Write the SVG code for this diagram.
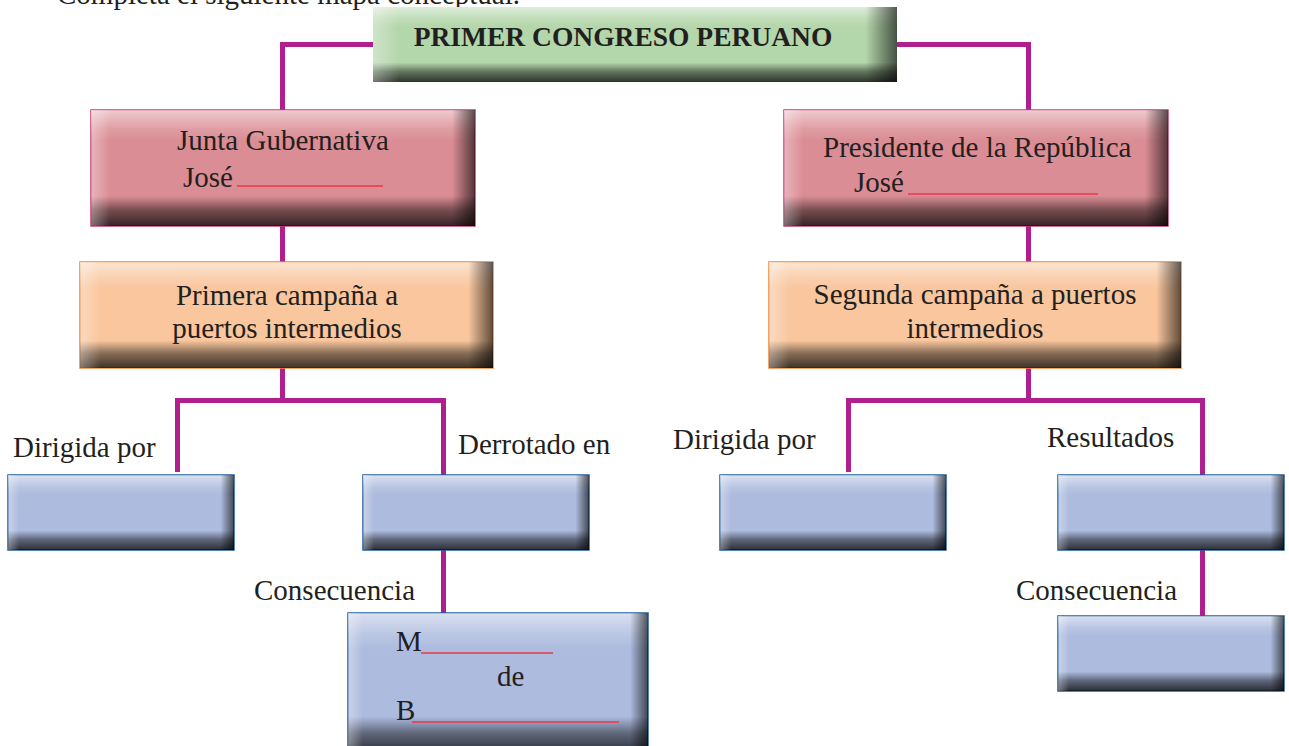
<svg xmlns="http://www.w3.org/2000/svg" width="1289" height="746" viewBox="0 0 1289 746">
<style>
text{font-family:"Liberation Serif","Times New Roman",serif;fill:#231f20;font-size:29px}
.c{text-anchor:middle}
.t{font-weight:bold;font-size:27.5px}
.conn{fill:none;stroke:#b01f8e;stroke-width:5}
.ul{stroke:#e8384a;stroke-width:1.6}
.green{fill:#b4d6ab}
.pink{fill:#db8d95;stroke:#c83a72;stroke-width:1.5}
.orange{fill:#f9c69e;stroke:#ee8534;stroke-width:1.5}
.blue{fill:#adbbde;stroke:#1f5c9a;stroke-width:1.5}
.sv{fill:url(#gv)}
.sh{fill:url(#gh)}
</style>
<defs>
<linearGradient id="gv" x1="0" y1="0" x2="0" y2="1">
<stop offset="0" stop-color="#fff" stop-opacity="0.55"/>
<stop offset="0.16" stop-color="#fff" stop-opacity="0.15"/>
<stop offset="0.26" stop-color="#fff" stop-opacity="0"/>
<stop offset="0.74" stop-color="#000" stop-opacity="0"/>
<stop offset="0.86" stop-color="#000" stop-opacity="0.45"/>
<stop offset="1" stop-color="#000" stop-opacity="0.75"/>
</linearGradient>
<linearGradient id="gh" x1="0" y1="0" x2="1" y2="0">
<stop offset="0" stop-color="#fff" stop-opacity="0.35"/>
<stop offset="0.05" stop-color="#fff" stop-opacity="0"/>
<stop offset="0.94" stop-color="#000" stop-opacity="0"/>
<stop offset="1" stop-color="#000" stop-opacity="0.62"/>
</linearGradient>
</defs>
<rect width="1289" height="746" fill="#fff"/>
<text x="57" y="4">Completa el siguiente mapa conceptual.</text>
<g id="connectors">
<path class="conn" d="M373 44.5H282.5V110"/>
<path class="conn" d="M897 44.5H1028.5V110"/>
<path class="conn" d="M282.5 226V262"/>
<path class="conn" d="M1028.5 226V262"/>
<path class="conn" d="M282.5 368V400.5M177.5 472V400.5H443.5V475"/>
<path class="conn" d="M443.5 550V613"/>
<path class="conn" d="M1028.5 368V400.5M848.5 472V400.5H1202.5V475"/>
<path class="conn" d="M1202.5 550V616"/>
</g>
<g id="title">
<rect class="green" x="373" y="7" width="524" height="75"/>
<rect class="sv" x="373" y="7" width="524" height="75"/>
<rect class="sh" x="373" y="7" width="524" height="75"/>
<text class="t c" x="623" y="46">PRIMER CONGRESO PERUANO</text>
</g>
<g id="junta">
<rect class="pink" x="91" y="110" width="384" height="116"/>
<rect class="sv" x="91" y="110" width="384" height="116"/>
<rect class="sh" x="91" y="110" width="384" height="116"/>
<text x="177" y="150">Junta Gubernativa</text>
<text x="183" y="187">José</text>
<line class="ul" x1="237" y1="186" x2="383" y2="186"/>
</g>
<g id="presidente">
<rect class="pink" x="784" y="110" width="384" height="116"/>
<rect class="sv" x="784" y="110" width="384" height="116"/>
<rect class="sh" x="784" y="110" width="384" height="116"/>
<text x="823" y="157">Presidente de la República</text>
<text x="854" y="192">José</text>
<line class="ul" x1="908" y1="194" x2="1098" y2="194"/>
</g>
<g id="primera">
<rect class="orange" x="80" y="262" width="413" height="106"/>
<rect class="sv" x="80" y="262" width="413" height="106"/>
<rect class="sh" x="80" y="262" width="413" height="106"/>
<text class="c" x="287" y="305">Primera campaña a</text>
<text class="c" x="287" y="338">puertos intermedios</text>
</g>
<g id="segunda">
<rect class="orange" x="769" y="262" width="412" height="106"/>
<rect class="sv" x="769" y="262" width="412" height="106"/>
<rect class="sh" x="769" y="262" width="412" height="106"/>
<text class="c" x="975" y="304">Segunda campaña a puertos</text>
<text class="c" x="975" y="338">intermedios</text>
</g>
<g id="labels">
<text x="13" y="457">Dirigida por</text>
<text x="458" y="454">Derrotado en</text>
<text x="673" y="449">Dirigida por</text>
<text x="1047" y="447">Resultados</text>
<text x="254" y="600">Consecuencia</text>
<text x="1016" y="600">Consecuencia</text>
</g>
<g id="dirigida1">
<rect class="blue" x="8" y="475" width="226" height="75"/>
<rect class="sv" x="8" y="475" width="226" height="75"/>
<rect class="sh" x="8" y="475" width="226" height="75"/>
</g>
<g id="derrotado">
<rect class="blue" x="363" y="475" width="226" height="75"/>
<rect class="sv" x="363" y="475" width="226" height="75"/>
<rect class="sh" x="363" y="475" width="226" height="75"/>
</g>
<g id="dirigida2">
<rect class="blue" x="720" y="475" width="226" height="75"/>
<rect class="sv" x="720" y="475" width="226" height="75"/>
<rect class="sh" x="720" y="475" width="226" height="75"/>
</g>
<g id="resultados">
<rect class="blue" x="1058" y="475" width="226" height="75"/>
<rect class="sv" x="1058" y="475" width="226" height="75"/>
<rect class="sh" x="1058" y="475" width="226" height="75"/>
</g>
<g id="consecuencia1">
<rect class="blue" x="348" y="613" width="300" height="140"/>
<rect class="sv" x="348" y="613" width="300" height="140"/>
<rect class="sh" x="348" y="613" width="300" height="140"/>
<text x="396" y="651">M</text>
<line class="ul" x1="421" y1="653" x2="553" y2="653"/>
<text x="497" y="686">de</text>
<text x="396" y="720">B</text>
<line class="ul" x1="412" y1="722" x2="619" y2="722"/>
</g>
<g id="consecuencia2">
<rect class="blue" x="1058" y="616" width="226" height="75"/>
<rect class="sv" x="1058" y="616" width="226" height="75"/>
<rect class="sh" x="1058" y="616" width="226" height="75"/>
</g>
</svg>
